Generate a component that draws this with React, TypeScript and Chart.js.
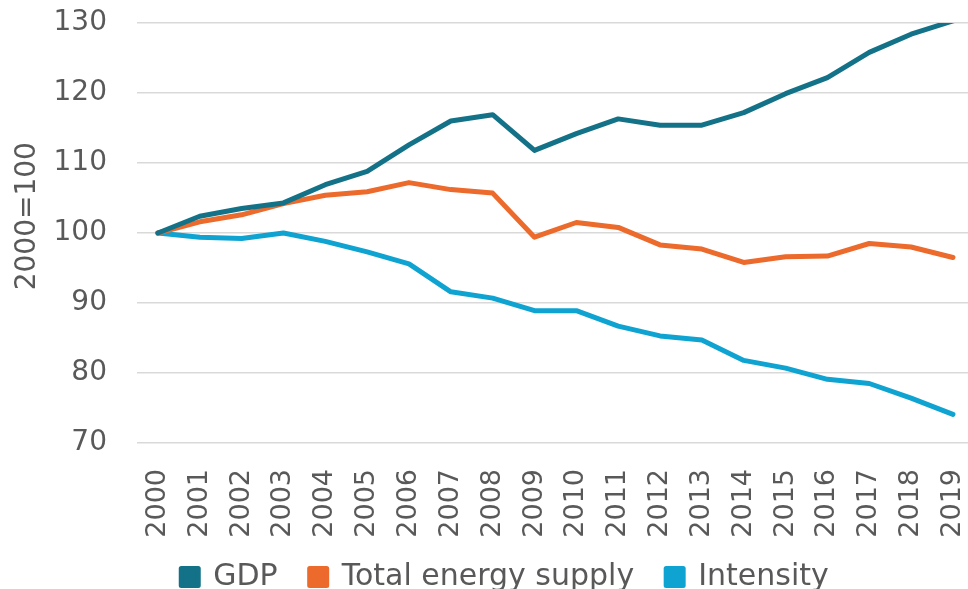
import { useEffect, useRef } from "react";
import { Chart, registerables } from "chart.js";

Chart.register(...registerables);

const years = ["2000", "2001", "2002", "2003", "2004", "2005", "2006", "2007", "2008", "2009", "2010", "2011", "2012", "2013", "2014", "2015", "2016", "2017", "2018", "2019"];
const gdp = [100, 102.4, 103.5, 104.3, 106.9, 108.8, 112.6, 116.0, 116.9, 111.8, 114.2, 116.3, 115.4, 115.4, 117.2, 119.9, 122.2, 125.8, 128.4, 130.3];
const energySupply = [100, 101.6, 102.6, 104.2, 105.4, 105.9, 107.2, 106.2, 105.7, 99.4, 101.5, 100.8, 98.3, 97.7, 95.8, 96.6, 96.7, 98.5, 98.0, 96.5];
const intensity = [100, 99.4, 99.2, 100.0, 98.8, 97.3, 95.6, 91.6, 90.7, 88.9, 88.9, 86.7, 85.3, 84.7, 81.8, 80.7, 79.1, 78.5, 76.4, 74.1];
const seriesNames = ["GDP", "Total energy supply", "Intensity"];
const yTicks = [70, 80, 90, 100, 110, 120, 130];
const yTitle = "2000=100";

const FONT = "'DejaVu Sans', Verdana, sans-serif";
const TEXT = "#595959";
const W = 968;
const H = 600;

const yTitlePlugin = {
  id: "yTitlePlugin",
  afterDraw(chart: any) {
    const ctx = chart.ctx;
    const area = chart.chartArea;
    ctx.save();
    ctx.translate(28, area.top + (area.bottom - area.top) * 0.46);
    ctx.rotate(-Math.PI / 2);
    ctx.font = `28px ${FONT}`;
    ctx.fillStyle = TEXT;
    ctx.textAlign = "center";
    ctx.textBaseline = "middle";
    ctx.fillText(yTitle, 0, 0);
    ctx.restore();
  },
};

const legendShiftPlugin = {
  id: "legendShiftPlugin",
  afterLayout(chart: any) {
    const lg = chart.legend;
    if (!lg) return;
    lg.left += 42;
    lg.top += 2;
    lg.bottom += 2;
  },
};

export default function App() {
  const ref = useRef<HTMLCanvasElement | null>(null);
  useEffect(() => {
    if (!ref.current) return;
    const toPts = (arr: number[]) => arr.map((v, i) => ({ x: i, y: v }));
    const chart = new Chart(ref.current, {
      type: "line",
      data: {
        datasets: [
          { label: seriesNames[0], data: toPts(gdp), borderColor: "#137287", backgroundColor: "#137287" },
          { label: seriesNames[1], data: toPts(energySupply), borderColor: "#EC6A2B", backgroundColor: "#EC6A2B" },
          { label: seriesNames[2], data: toPts(intensity), borderColor: "#0FA3D2", backgroundColor: "#0FA3D2" },
        ] as any,
      },
      options: {
        animation: false,
        responsive: false,
        maintainAspectRatio: false,
        elements: {
          point: { radius: 0, hoverRadius: 0 },
          line: { borderWidth: 5, tension: 0, borderCapStyle: "round", borderJoinStyle: "round" },
        },
        layout: { padding: { top: 23, right: 0, left: 0, bottom: 0 } },
        plugins: {
          tooltip: { enabled: false },
          legend: {
            position: "bottom",
            labels: {
              boxWidth: 17,
              boxHeight: 17,
              padding: 32,
              color: TEXT,
              font: { family: FONT, size: 30 },
            },
          },
        },
        scales: {
          x: {
            type: "linear",
            min: -0.5,
            max: 19.36,
            grid: { display: false },
            border: { display: false },
            afterBuildTicks: (s: any) => {
              s.ticks = years.map((_, i) => ({ value: i }));
            },
            afterFit: (s: any) => {
              s.height = 85;
              s.paddingLeft = 0;
              s.paddingRight = 0;
              s._computeLabelArea = () => undefined;
            },
            ticks: {
              autoSkip: false,
              minRotation: 90,
              maxRotation: 90,
              padding: 18,
              color: TEXT,
              font: { family: FONT, size: 27 },
              callback: (v: any) => years[v] ?? "",
            },
          },
          y: {
            min: 70,
            max: 130,
            afterBuildTicks: (s: any) => {
              s.ticks = yTicks.map((v) => ({ value: v }));
            },
            afterFit: (s: any) => {
              s.width = 137;
              s.paddingTop = 0;
              s.paddingBottom = 0;
            },
            grid: { color: "#D9D9D9", lineWidth: 1.5, drawTicks: false },
            border: { display: false },
            ticks: {
              padding: 30,
              color: TEXT,
              font: { family: FONT, size: 28 },
            },
          },
        },
      },
      plugins: [yTitlePlugin, legendShiftPlugin],
    });
    return () => chart.destroy();
  }, []);
  return (
    <div style={{ position: "absolute", left: 0, top: 0, width: W, height: 589, overflow: "hidden", background: "#fff" }}>
      <canvas ref={ref} width={W} height={H} style={{ display: "block", width: W, height: H }} />
    </div>
  );
}
